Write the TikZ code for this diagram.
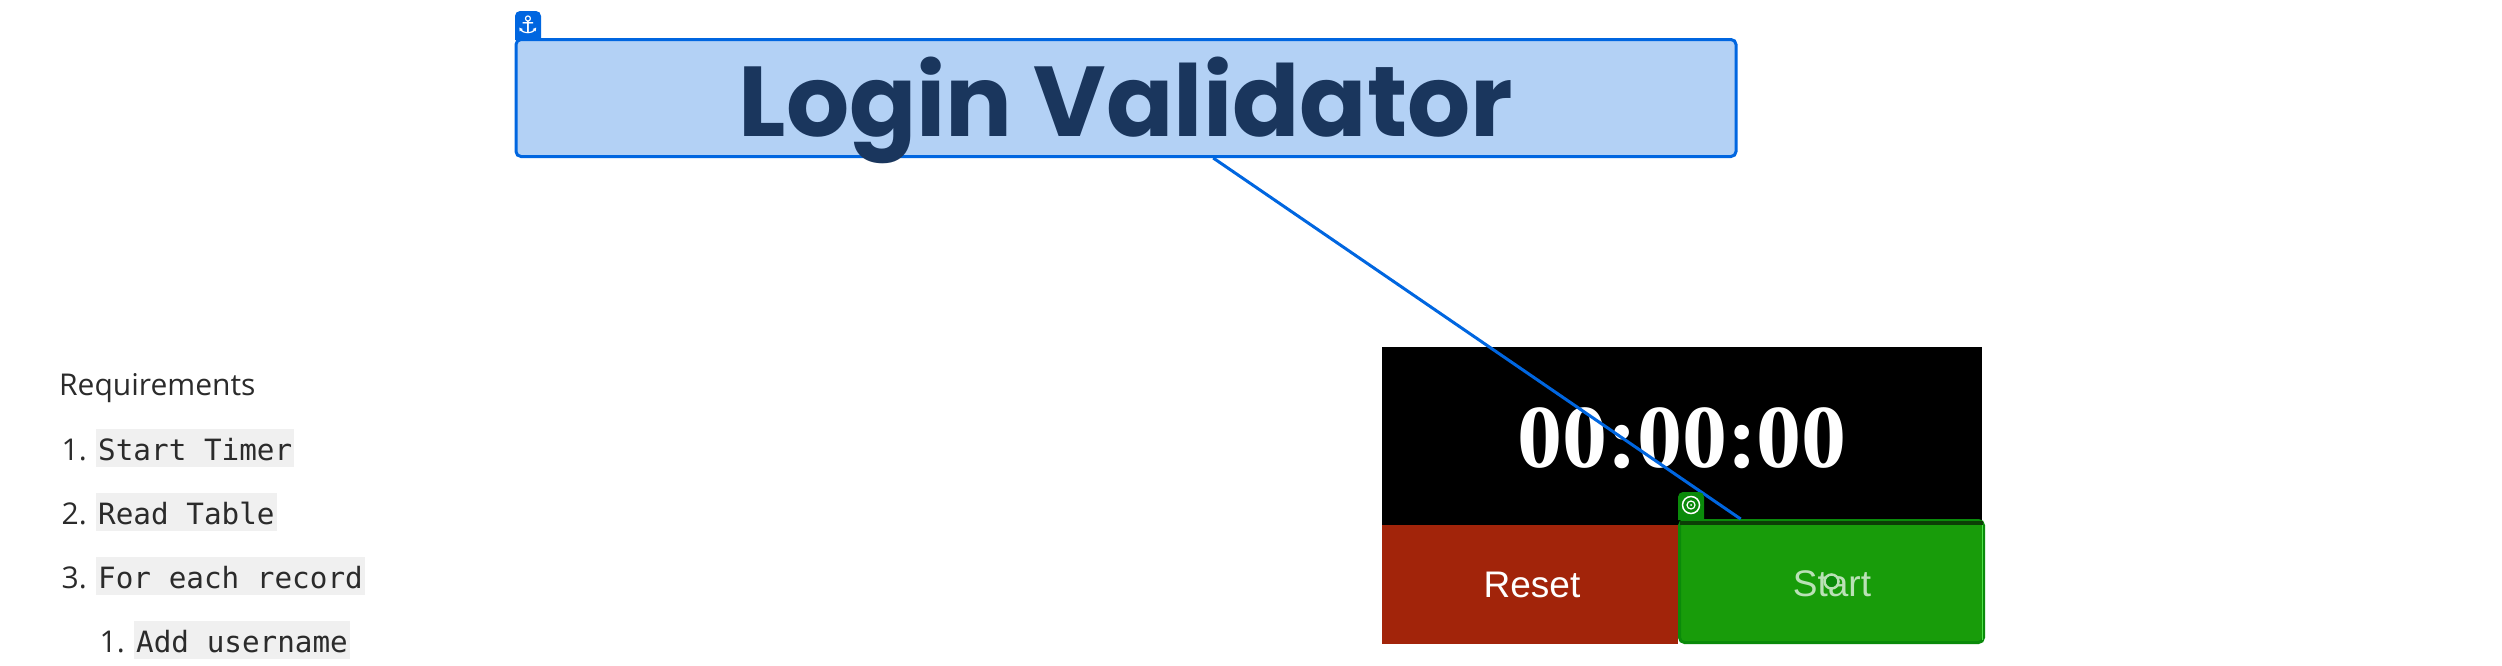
\documentclass[tikz,border=0pt]{standalone}
\usepackage{fontspec}
\setmainfont{Open Sans}
\setmonofont{DejaVu Sans Mono}
\newfontfamily\titlefont{Poppins}
\newfontfamily\timerfont{Liberation Serif}
\newfontfamily\buttonfont{Liberation Sans}
\newfontfamily\iconfont{DejaVu Sans}
\begin{document}
\begin{tikzpicture}[x=1pt,y=-1pt,
  codeitem/.style={anchor=base west,fill=codegray,text=inkgray,inner xsep=2pt,inner ysep=4pt,text height=27pt,text depth=3pt,font=\ttfamily\fontsize{29.3}{35}\selectfont},
  numitem/.style={anchor=base east,inner sep=0pt,text=inkgray,font=\fontsize{30}{36}\selectfont},
  btn/.style={rectangle,minimum height=119pt,text=white,inner sep=0pt,font=\buttonfont\fontsize{37}{44}\selectfont}]
\definecolor{codegray}{HTML}{F0F0F0}
\definecolor{inkgray}{HTML}{2B2B2B}
\definecolor{anchorblue}{HTML}{0066E0}
\definecolor{titlefill}{HTML}{B3D1F5}
\definecolor{titleink}{HTML}{1A365D}
\definecolor{resetred}{HTML}{A2240A}
\definecolor{startgreen}{HTML}{189C0A}
\definecolor{targetgreen}{HTML}{0A8A0A}
\definecolor{stripgreen}{HTML}{0C3F06}
\useasboundingbox (0,0) rectangle (2502,665);
\node [rectangle,rounded corners=5pt,draw=anchorblue,fill=titlefill,line width=3pt,minimum width=1220pt,minimum height=117pt,inner sep=0pt] (title) at (1126,98) {};
\node [anchor=base,inner sep=0pt,text=titleink,font=\titlefont\bfseries\fontsize{99.3}{110}\selectfont] (titletext) at (1126,136) {Login Validator};
\node [rectangle,fill=black,minimum width=600pt,minimum height=178pt,inner sep=0pt] (timer) at (1682,436) {};
\node [anchor=base,inner sep=0pt,text=white,font=\timerfont\bfseries\fontsize{90}{100}\selectfont] (timertext) at (1682,467) {00:00:00};
\node [btn,fill=resetred,minimum width=296pt] (reset) at (1530,584.5) {};
\node [anchor=base,inner sep=0pt,text=white,font=\buttonfont\fontsize{37}{44}\selectfont] (resettext) at (1532,597) {Reset};
\node [btn,rounded corners=5pt,draw=targetgreen,fill=startgreen,line width=3pt,minimum width=304pt,minimum height=122pt] (start) at (1831.5,581.5) {};
\fill [stripgreen] (1680,520.5) rectangle (1983,525);
\draw [green!60!white!70!startgreen,line width=1pt] (1982.5,525) -- (1982.5,640);
\node [anchor=base,inner sep=0pt,text=startgreen!30!white,font=\buttonfont\fontsize{37}{44}\selectfont] (starttext) at (1832,596) {Start};
\draw [anchorblue,line width=3pt] (title) -- (start);
% tabs
\fill [anchorblue] (515,40) [rounded corners=5pt] -- (515,11) -- (541,11) [sharp corners] -- (541,40) -- cycle;
\node [inner sep=0pt,text=white,font=\iconfont\fontsize{24}{25}\selectfont] (anchortab) at (528,25) {\symbol{"2693}};
\fill [targetgreen] (1678,520) [rounded corners=5pt] -- (1678,492) -- (1704,492) [sharp corners] -- (1704,520) -- cycle;
\node [circle,draw=white,line width=1.5pt,minimum size=17pt,inner sep=0pt] (targettab) at (1691,505) {};
\draw [white,line width=1.2pt] (targettab.center) circle (4);
\fill [white] (targettab.center) circle (1);
\node [circle,draw=startgreen!30!white,line width=2.5pt,fill=targetgreen,minimum size=14pt,inner sep=0pt] (targetmark) at (start.center) {};
% requirements
\node [anchor=base west,inner sep=0pt,text=inkgray,font=\fontsize{30}{36}\selectfont] (req) at (59,395) {Requirements};
\foreach \txt/\num/\nr/\xcode/\ypos in {Start Timer/1/a/96/460,Read Table/2/b/96/524,For each record/3/c/96/588,Add username/1/d/134/652}
  {  \node [codeitem] (item\nr) at (\xcode,\ypos) {\txt};
     \node [numitem] (num\nr) at (\xcode-9,\ypos) {\num.};}
\end{tikzpicture}
\end{document}
